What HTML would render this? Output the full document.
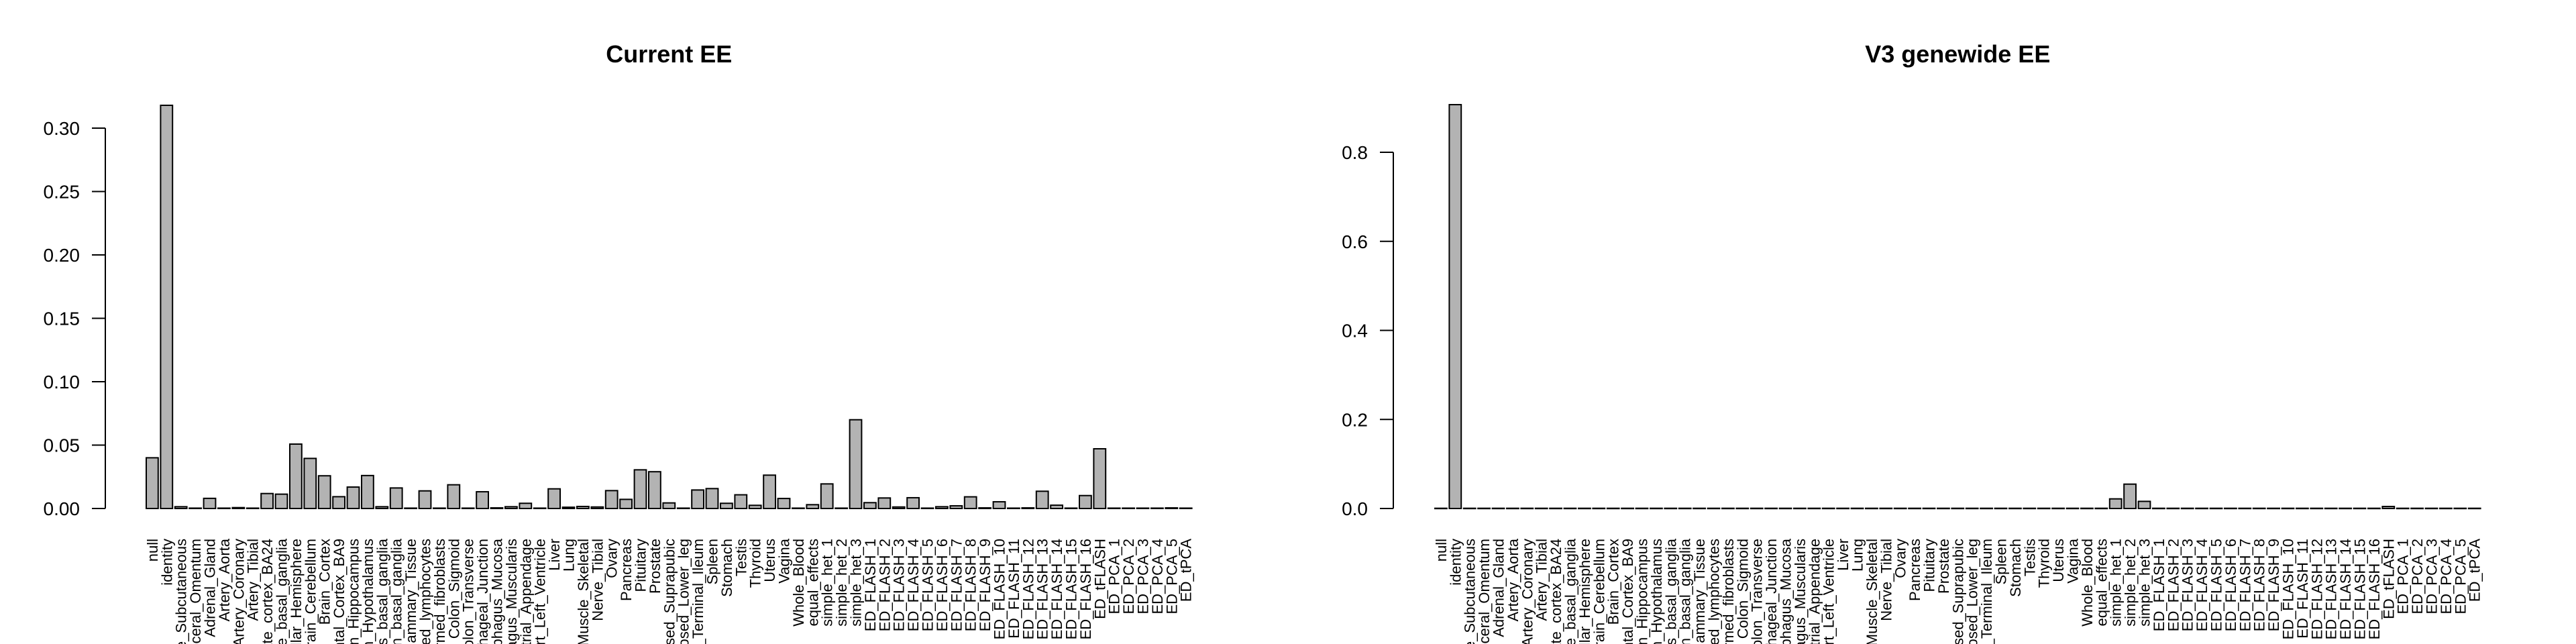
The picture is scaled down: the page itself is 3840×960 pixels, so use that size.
<!DOCTYPE html>
<html><head><meta charset="utf-8">
<style>
html,body{margin:0;padding:0;background:#fff;width:3840px;height:960px;overflow:hidden;}
svg{display:block;overflow:hidden;}
text{font-family:"Liberation Sans",Arial,sans-serif;fill:#000;}
</style></head>
<body>
<svg id="chart" xmlns="http://www.w3.org/2000/svg" width="3840" height="960" viewBox="0 0 3840 960"></svg>
<script>
const categories = ["null","identity","Adipose_Subcutaneous","Adipose_Visceral_Omentum","Adrenal_Gland","Artery_Aorta","Artery_Coronary","Artery_Tibial","Brain_Anterior_cingulate_cortex_BA24","Brain_Caudate_basal_ganglia","Brain_Cerebellar_Hemisphere","Brain_Cerebellum","Brain_Cortex","Brain_Frontal_Cortex_BA9","Brain_Hippocampus","Brain_Hypothalamus","Brain_Nucleus_accumbens_basal_ganglia","Brain_Putamen_basal_ganglia","Breast_Mammary_Tissue","Cells_EBV-transformed_lymphocytes","Cells_Transformed_fibroblasts","Colon_Sigmoid","Colon_Transverse","Esophagus_Gastroesophageal_Junction","Esophagus_Mucosa","Esophagus_Muscularis","Heart_Atrial_Appendage","Heart_Left_Ventricle","Liver","Lung","Muscle_Skeletal","Nerve_Tibial","Ovary","Pancreas","Pituitary","Prostate","Skin_Not_Sun_Exposed_Suprapubic","Skin_Sun_Exposed_Lower_leg","Small_Intestine_Terminal_Ileum","Spleen","Stomach","Testis","Thyroid","Uterus","Vagina","Whole_Blood","equal_effects","simple_het_1","simple_het_2","simple_het_3","ED_FLASH_1","ED_FLASH_2","ED_FLASH_3","ED_FLASH_4","ED_FLASH_5","ED_FLASH_6","ED_FLASH_7","ED_FLASH_8","ED_FLASH_9","ED_FLASH_10","ED_FLASH_11","ED_FLASH_12","ED_FLASH_13","ED_FLASH_14","ED_FLASH_15","ED_FLASH_16","ED_tFLASH","ED_PCA_1","ED_PCA_2","ED_PCA_3","ED_PCA_4","ED_PCA_5","ED_tPCA"];
const currentValues = [0.040,0.318,0.0014,0.0003,0.008,0.0003,0.0007,0.0003,0.0118,0.0113,0.0508,0.0395,0.0258,0.0093,0.0169,0.026,0.0014,0.0162,0.0003,0.0139,0.0003,0.0187,0.0003,0.0132,0.0005,0.0014,0.0041,0.0003,0.0155,0.001,0.0016,0.0012,0.0141,0.0072,0.0305,0.029,0.0044,0.0003,0.0146,0.0157,0.0041,0.0108,0.0025,0.0263,0.0079,0.0003,0.003,0.0194,0.0003,0.070,0.0046,0.0083,0.0012,0.0085,0.0003,0.0014,0.0021,0.0092,0.0005,0.0053,0.0003,0.0005,0.0136,0.0026,0.0003,0.0102,0.0471,0.0003,0.0003,0.0003,0.0003,0.0005,0.0003];
const v3Values = [0.0005,0.907,0.0005,0.0005,0.0005,0.0005,0.0005,0.0005,0.0005,0.0005,0.0005,0.0005,0.0005,0.0005,0.0005,0.0005,0.0005,0.0005,0.0005,0.0005,0.0005,0.0005,0.0005,0.0005,0.0005,0.0005,0.0005,0.0005,0.0005,0.0005,0.0005,0.0005,0.0005,0.0005,0.0005,0.0005,0.0005,0.0005,0.0005,0.0005,0.0005,0.0005,0.0005,0.0005,0.0005,0.0005,0.0005,0.0216,0.0547,0.016,0.0005,0.0005,0.0005,0.0005,0.0005,0.0005,0.0005,0.0005,0.0005,0.0005,0.0005,0.0005,0.0005,0.0005,0.0005,0.0005,0.0045,0.0005,0.0005,0.0005,0.0005,0.0005,0.0005];
const currentTicks = [0,0.05,0.10,0.15,0.20,0.25,0.30];
const currentTickLabels = ["0.00","0.05","0.10","0.15","0.20","0.25","0.30"];
const v3Ticks = [0,0.2,0.4,0.6,0.8];
const v3TickLabels = ["0.0","0.2","0.4","0.6","0.8"];

const NS = "http://www.w3.org/2000/svg";
const svg = document.getElementById('chart');
function mk(tag, attrs, parent){
  const e = document.createElementNS(NS, tag);
  for (const k in attrs) e.setAttribute(k, attrs[k]);
  parent.appendChild(e);
  return e;
}
function drawChart(prefix, title, values, ticks, tickLabels, cfg){
  const g = mk('g', {}, svg);
  
  
  const base = 758;
  const y = v => base - v * cfg.pxPerUnit;
  const pitch = 21.4, bw = 17.8;
  const x = i => cfg.x0 + i * pitch;
  const t = mk('text', {x: cfg.x0 + (categories.length*pitch - (pitch-bw))/2, y: 93, 'text-anchor':'middle', 'font-size':36, 'font-weight':'bold'}, g);
  t.textContent = title;
  
  
  const ax = mk('g', {}, g);
  
  
  mk('line', {x1: cfg.axisX, x2: cfg.axisX, y1: y(ticks[0]), y2: y(ticks[ticks.length-1]), stroke:'#000', 'stroke-width':2}, ax);
  ticks.forEach((tv, i) => {
    mk('line', {x1: cfg.axisX-20, x2: cfg.axisX, y1: y(tv), y2: y(tv), stroke:'#000', 'stroke-width':2}, ax);
    const tl = mk('text', {x: cfg.axisX-38, y: y(tv)+10, 'text-anchor':'end', 'font-size':28}, ax);
    tl.textContent = tickLabels[i];
    
    
  });
  values.forEach((v, i) => {
    const top = y(v);
    const r = mk('rect', {x: x(i), y: top, width: bw, height: Math.max(base - top, 0.5), fill:'#b3b3b3', stroke:'#000', 'stroke-width':2}, g);
    
    
  });
  categories.forEach((c, i) => {
    const cx = x(i) + bw/2 + 8;
    const lt = mk('text', {x: 0, y: 0, 'text-anchor':'end', 'font-size':22, transform:'translate(' + cx + ',803) rotate(-90)'}, g);
    lt.textContent = c;
    
    
  });
}
drawChart('current-ee', 'Current EE', currentValues, currentTicks, currentTickLabels, {x0: 218, axisX: 157, pxPerUnit: 1890});
drawChart('v3-genewide-ee', 'V3 genewide EE', v3Values, v3Ticks, v3TickLabels, {x0: 2139, axisX: 2077, pxPerUnit: 663.75});
</script>
</body></html>
